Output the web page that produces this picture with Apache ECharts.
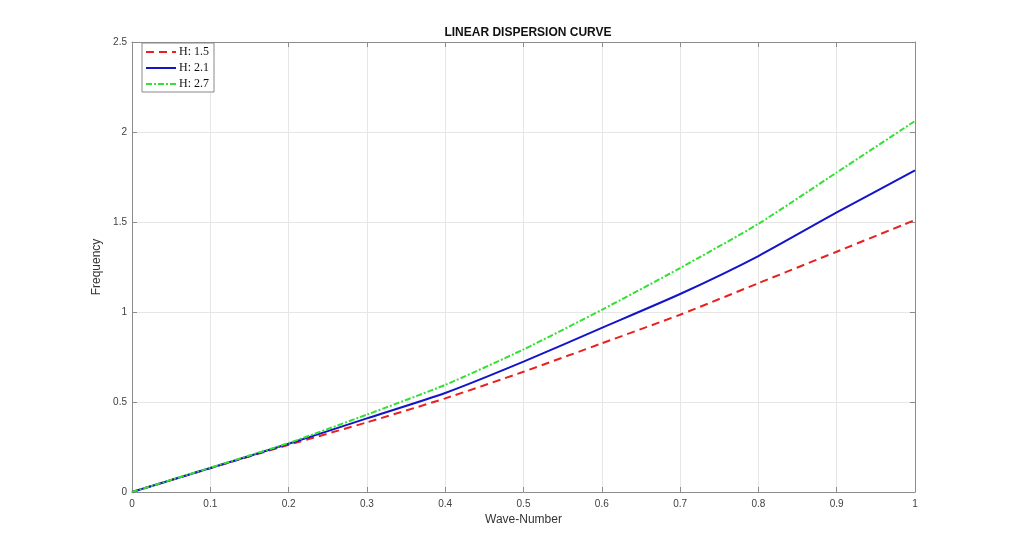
<!DOCTYPE html>
<html>
<head>
<meta charset="utf-8">
<script src="https://cdn.jsdelivr.net/npm/echarts@6/dist/echarts.min.js"></script>
<style>html,body{margin:0;padding:0;background:#fff;}#c{width:1012px;height:553px;}</style>
</head>
<body>
<div id="c"></div>
<script>
const waveNumber = [0, 0.1, 0.2, 0.3, 0.4, 0.5, 0.6, 0.7, 0.8, 0.9, 1.0];
const freqH15 = [0, 0.132, 0.262, 0.387, 0.52, 0.668, 0.826, 0.985, 1.16, 1.335, 1.511];
const freqH21 = [0, 0.133, 0.268, 0.409, 0.55, 0.724, 0.912, 1.1, 1.311, 1.553, 1.787];
const freqH27 = [0, 0.135, 0.272, 0.43, 0.595, 0.792, 1.012, 1.244, 1.49, 1.775, 2.061];
const seriesNames = ['H: 1.5', 'H: 2.1', 'H: 2.7'];

const pair = (ys) => waveNumber.map((x, i) => [x, ys[i]]);
const axisCol = '#8c8c8c';
const labelCol = '#404040';

const chart = echarts.init(document.getElementById('c'), null, {renderer: 'canvas'});
const baseX = {
  type: 'value', min: 0, max: 1, interval: 0.1,
  axisLine: {show: true, onZero: false, lineStyle: {color: axisCol, width: 1}},
  axisTick: {show: true, inside: true, length: 5, lineStyle: {color: axisCol}},
};
const baseY = {
  type: 'value', min: 0, max: 2.5, interval: 0.5,
  axisLine: {show: true, onZero: false, lineStyle: {color: axisCol, width: 1}},
  axisTick: {show: true, inside: true, length: 5, lineStyle: {color: axisCol}},
};
chart.setOption({
  animation: false,
  backgroundColor: '#fff',
  title: {
    text: 'LINEAR DISPERSION CURVE', left: 523, top: 22, textAlign: 'center',
    textStyle: {fontFamily: 'Liberation Sans', fontSize: 12, fontWeight: 'bold', color: '#111'}
  },
  grid: {left: 132, right: 97, top: 42, bottom: 61, containLabel: false},
  legend: {
    data: seriesNames, orient: 'vertical', left: 142, top: 43,
    itemWidth: 30, itemHeight: 11, itemGap: 4,
    padding: [3, 5, 2, 3],
    borderColor: '#888', borderWidth: 1, backgroundColor: '#fff',
    itemStyle: {opacity: 0},
    textStyle: {fontFamily: 'Liberation Serif', fontSize: 12, color: '#111', padding: [0, 0, 0, -2]}
  },
  xAxis: [
    Object.assign({}, baseX, {
      name: 'Wave-Number', nameLocation: 'middle', nameGap: 22,
      nameTextStyle: {fontFamily: 'Liberation Sans', fontSize: 12, color: '#333'},
      axisLabel: {fontFamily: 'Liberation Sans', fontSize: 10, color: labelCol, margin: 7},
      splitLine: {show: true, lineStyle: {color: '#e6e6e6', width: 1}}
    }),
    Object.assign({}, baseX, {position: 'top', axisLabel: {show: false}, splitLine: {show: false}})
  ],
  yAxis: [
    Object.assign({}, baseY, {
      name: 'Frequency', nameLocation: 'middle', nameGap: 21,
      nameTextStyle: {fontFamily: 'Liberation Sans', fontSize: 12, color: '#333'},
      axisLabel: {fontFamily: 'Liberation Sans', fontSize: 10, color: labelCol, margin: 5},
      splitLine: {show: true, lineStyle: {color: '#e6e6e6', width: 1}}
    }),
    Object.assign({}, baseY, {position: 'right', axisLabel: {show: false}, splitLine: {show: false}})
  ],
  series: [
    {name: seriesNames[0], type: 'line', data: pair(freqH15), showSymbol: false, symbol: 'none', smooth: 0.2,
     lineStyle: {color: '#e8211f', width: 2, type: [8, 5]}, itemStyle: {color: '#e8211f'}, z: 3},
    {name: seriesNames[1], type: 'line', data: pair(freqH21), showSymbol: false, symbol: 'none', smooth: 0.2,
     lineStyle: {color: '#1414c8', width: 2, type: 'solid'}, itemStyle: {color: '#1414c8'}, z: 4},
    {name: seriesNames[2], type: 'line', data: pair(freqH27), showSymbol: false, symbol: 'none', smooth: 0.2,
     lineStyle: {color: '#33e033', width: 2, type: [6, 2, 2, 2]}, itemStyle: {color: '#33e033'}, z: 5}
  ]
});
</script>
</body>
</html>
